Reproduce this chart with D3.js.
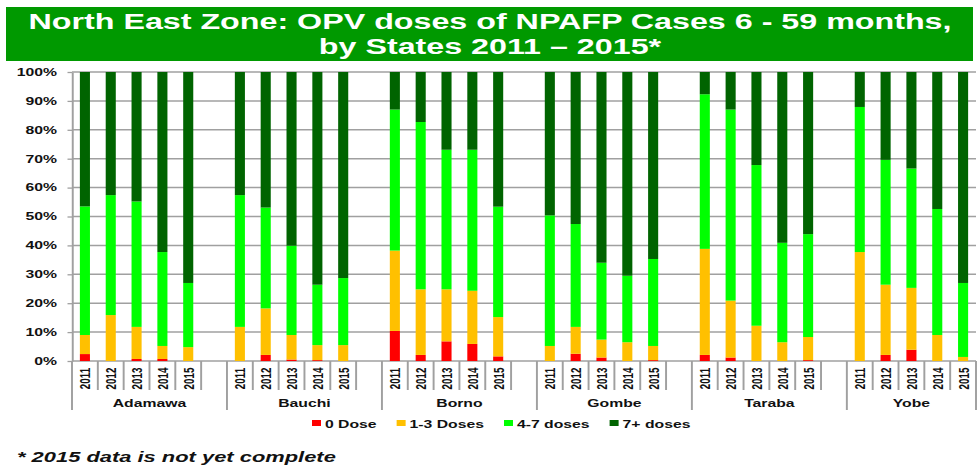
<!DOCTYPE html>
<html>
<head>
<meta charset="utf-8">
<script src="https://cdn.jsdelivr.net/npm/d3@7"></script>
<style>
  html, body { margin: 0; padding: 0; background: #fff; }
  svg { display: block; font-family: "Liberation Sans", Arial, sans-serif; }
</style>
</head>
<body>
<svg id="chart"></svg>
<script>
// chart data (percent of cases per bar, bars run state by state, 2011..2015)
const states = ['Adamawa', 'Bauchi', 'Borno', 'Gombe', 'Taraba', 'Yobe'];
const years = ['2011', '2012', '2013', '2014', '2015'];
const doseLabels = ['0 Dose', '1-3 Doses', '4-7 doses', '7+ doses'];
const doseColors = ['#ff0000', '#ffc000', '#00ff00', '#006400'];
const yTicks = [0, 10, 20, 30, 40, 50, 60, 70, 80, 90, 100];

const dose0 = [
  2.4, 0, 0.7, 0.7, 0,
  0, 2.1, 0.5, 0.3, 0,
  10.4, 2.1, 6.8, 5.9, 1.6,
  0, 2.5, 1.2, 0, 0.3,
  2.1, 1.2, 0, 0, 0.3,
  0, 2.1, 3.9, 0, 0
];
const dose1to3 = [
  6.6, 15.9, 11.1, 4.5, 4.8,
  11.8, 16.1, 8.5, 5.2, 5.5,
  27.8, 22.7, 18.0, 18.4, 13.6,
  5.2, 9.3, 6.2, 6.5, 4.9,
  36.7, 19.7, 12.2, 6.5, 8.0,
  37.7, 24.3, 21.4, 9.0, 1.4
];
const dose4to7 = [
  44.5, 41.5, 43.4, 32.5, 22.2,
  45.6, 34.9, 30.9, 20.9, 23.2,
  48.8, 57.9, 48.3, 48.8, 38.2,
  45.2, 35.6, 26.6, 23.0, 30.1,
  53.5, 66.1, 55.6, 34.4, 35.6,
  50.2, 43.2, 41.3, 43.6, 25.6
];
const dose7plus = [
  46.5, 42.6, 44.8, 62.3, 73.0,
  42.6, 46.9, 60.1, 73.6, 71.3,
  13.0, 17.3, 26.9, 26.9, 46.6,
  49.6, 52.6, 66.0, 70.5, 64.7,
  7.7, 13.0, 32.2, 59.1, 56.1,
  12.1, 30.4, 33.4, 47.4, 73.0
];

// the original picture is stretched sideways, so draw in a narrower
// coordinate space and let the viewBox widen it
const outW = 978, outH = 465, k = 1.5;
const W = outW / k;
const gray = '#a0a0a0';

const svg = d3.select('#chart')
    .attr('width', outW)
    .attr('height', outH)
    .attr('viewBox', `0 0 ${W} ${outH}`)
    .attr('preserveAspectRatio', 'none');

const plot = {left: 72 / k, right: 976 / k, top: 72, bottom: 361};

// one row per bar
const rows = [];
states.forEach((s, si) => {
  years.forEach((yr, yi) => {
    const i = si * years.length + yi;
    rows.push({key: s + '|' + yr, state: s, year: yr,
      d0: dose0[i], d1: dose1to3[i], d2: dose4to7[i], d3: dose7plus[i]});
  });
});

// slots: 5 years per state plus one empty slot between states
const slots = [];
states.forEach((s, si) => {
  years.forEach(yr => slots.push(s + '|' + yr));
  if (si < states.length - 1) slots.push(s + '|gap');
});

const x = d3.scaleBand().domain(slots).range([plot.left, plot.right]).padding(0);
const y = d3.scaleLinear().domain([0, 100]).range([plot.bottom, plot.top]);
const barW = x.bandwidth() * 0.39;

// title
svg.append('rect')
    .attr('x', 6 / k).attr('y', 7)
    .attr('width', (973 - 6) / k).attr('height', 54)
    .attr('fill', '#009900');
const title = svg.append('text')
    .attr('text-anchor', 'middle')
    .attr('fill', '#fff')
    .style('font-weight', 'bold')
    .style('font-size', '21.5px');
title.append('tspan').attr('x', 490 / k).attr('y', 29)
    .text('North East Zone: OPV doses of NPAFP Cases 6 - 59 months,');
title.append('tspan').attr('x', 490 / k).attr('y', 54)
    .text('by States 2011 \u2013 2015*');

// gridlines
svg.append('g')
  .selectAll('line')
  .data(yTicks)
  .enter()
  .append('line')
    .attr('x1', plot.left)
    .attr('x2', plot.right)
    .attr('y1', d => y(d))
    .attr('y2', d => y(d))
    .attr('stroke', gray)
    .attr('stroke-width', 1.5);

// y axis
const yAxis = svg.append('g')
    .attr('transform', `translate(${plot.left},0)`)
    .call(d3.axisLeft(y).tickValues(yTicks).tickFormat(d => d + '%').tickSize(3).tickSizeOuter(0).tickPadding(7));
yAxis.select('.domain').attr('stroke', gray).attr('stroke-width', 1.3);
yAxis.selectAll('.tick line').attr('stroke', gray).attr('stroke-width', 1.3);
yAxis.selectAll('.tick text')
    .attr('fill', '#111')
    .style('font-family', '"Liberation Sans", Arial, sans-serif')
    .style('font-weight', 'bold')
    .style('font-size', '10.5px');

// stacked bars
const stack = d3.stack().keys(['d0', 'd1', 'd2', 'd3']);
const layers = stack(rows);

svg.append('g')
  .selectAll('g')
  .data(layers)
  .enter()
  .append('g')
    .attr('fill', (d, i) => doseColors[i])
  .selectAll('rect')
  .data(d => d)
  .enter()
  .append('rect')
    .attr('x', d => x(d.data.key) + (x.bandwidth() - barW) / 2)
    .attr('width', barW)
    .attr('y', d => y(d[1]))
    .attr('height', d => y(d[0]) - y(d[1]));

// category axis: separators, year labels, state labels
const cat = svg.append('g');
slots.forEach((s, i) => {
  const x0 = x(s);
  const isGroupEdge = i === 0 || slots[i - 1].endsWith('|gap');
  cat.append('line')
      .attr('x1', x0).attr('x2', x0)
      .attr('y1', plot.bottom).attr('y2', isGroupEdge ? 410 : 390)
      .attr('stroke', gray).attr('stroke-width', 1.3);
});
cat.append('line')
    .attr('x1', plot.right).attr('x2', plot.right)
    .attr('y1', plot.bottom).attr('y2', 410)
    .attr('stroke', gray).attr('stroke-width', 1.3);

cat.selectAll('text.year')
  .data(rows)
  .enter()
  .append('text')
    .attr('class', 'year')
    .attr('transform', d => `translate(${x(d.key) + x.bandwidth() / 2 + 0.5},378.5) rotate(-90)`)
    .attr('text-anchor', 'middle')
    .attr('dominant-baseline', 'central')
    .attr('fill', '#111')
    .style('font-weight', 'bold')
    .style('font-size', '9.8px')
    .text(d => d.year);

cat.selectAll('text.state')
  .data(states)
  .enter()
  .append('text')
    .attr('class', 'state')
    .attr('x', (s, i) => {
      const a = x(s + '|2011');
      const b = i < states.length - 1 ? x(s + '|gap') + x.bandwidth() : plot.right;
      return (a + b) / 2;
    })
    .attr('y', 407)
    .attr('text-anchor', 'middle')
    .attr('fill', '#111')
    .style('font-weight', 'bold')
    .style('font-size', '10.5px')
    .text(d => d);

// legend
const legend = svg.append('g').attr('transform', `translate(${312 / k},0)`);
let lx = 0;
doseLabels.forEach((lab, i) => {
  legend.append('rect')
      .attr('x', lx).attr('y', 420)
      .attr('width', 9 / k).attr('height', 6)
      .attr('fill', doseColors[i]);
  const t = legend.append('text')
      .attr('x', lx + 13 / k).attr('y', 428)
      .attr('fill', '#111')
      .style('font-weight', 'bold')
      .style('font-size', '10.5px')
      .text(lab);
  lx += 13 / k + t.node().getComputedTextLength() + 20 / k;
});

// footnote
svg.append('text')
    .attr('x', 17 / k).attr('y', 462)
    .attr('fill', '#111')
    .style('font-weight', 'bold')
    .style('font-style', 'italic')
    .style('font-size', '14.6px')
    .text('* 2015 data is not yet complete');
</script>
</body>
</html>
